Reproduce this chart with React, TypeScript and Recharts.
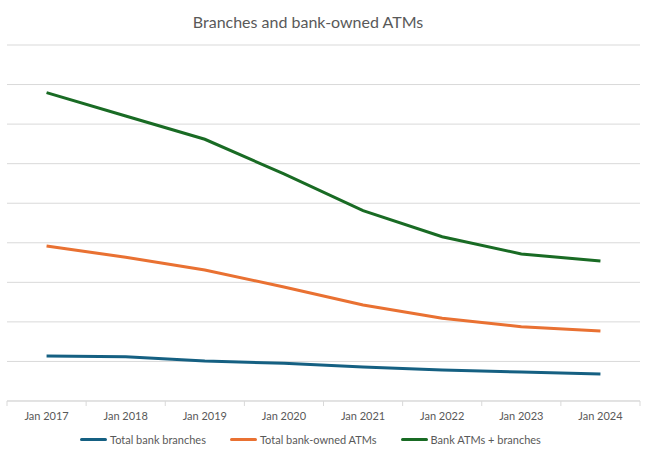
import { CartesianGrid, Line, LineChart, XAxis, YAxis } from "recharts";

const YEARS = ["Jan 2017", "Jan 2018", "Jan 2019", "Jan 2020", "Jan 2021", "Jan 2022", "Jan 2023", "Jan 2024"];
const BRANCHES = [1138, 1120, 1011, 953, 860, 784, 733, 683];
const ATMS = [3919, 3633, 3312, 2882, 2427, 2091, 1879, 1770];
const COMBINED = [7795, 7206, 6617, 5740, 4812, 4154, 3717, 3540];
const Y_TICKS = [0, 1000, 2000, 3000, 4000, 5000, 6000, 7000, 8000, 9000];

const SERIES = [
  { key: "branches", name: "Total bank branches", color: "#156082" },
  { key: "atms", name: "Total bank-owned ATMs", color: "#E97132" },
  { key: "combined", name: "Bank ATMs + branches", color: "#196B24" },
];

const W = 650;
const H = 457;
const MARGIN = { top: 45, right: 10, bottom: 26, left: 7 };
const FONT = "Lato, 'Open Sans', sans-serif";
const TEXT = "#595959";
const GRID = "#d9d9d9";

const data = YEARS.map((year, i) => ({
  year,
  branches: BRANCHES[i],
  atms: ATMS[i],
  combined: COMBINED[i],
}));

// Excel-style category axis: points sit in the middle of each band
const bandWidth = (W - MARGIN.left - MARGIN.right) / YEARS.length;

function YearTick(props: any) {
  const { x, y, payload, index } = props;
  const last = index === YEARS.length - 1;
  return (
    <g>
      <line x1={x - bandWidth / 2} x2={x - bandWidth / 2} y1={y} y2={y + 5} stroke={GRID} />
      {last && <line x1={x + bandWidth / 2} x2={x + bandWidth / 2} y1={y} y2={y + 5} stroke={GRID} />}
      <text x={x} y={y + 19} textAnchor="middle" fontSize={11} fill={TEXT} fontFamily={FONT}>
        {payload.value}
      </text>
    </g>
  );
}

export default function App() {
  return (
    <div style={{ position: "absolute", top: 0, left: 0, width: W, height: H, background: "#fff", fontFamily: FONT }}>
      <div style={{ position: "absolute", top: 12, left: 0, width: 616, textAlign: "center", fontSize: 16, color: TEXT }}>
        Branches and bank-owned ATMs
      </div>
      <LineChart width={W} height={H} data={data} margin={MARGIN}>
        <CartesianGrid vertical={false} stroke={GRID} />
        <XAxis
          dataKey="year"
          height={30}
          stroke={GRID}
          tickLine={false}
          tickSize={0}
          tickMargin={0}
          padding={{ left: bandWidth / 2, right: bandWidth / 2 }}
          tick={<YearTick />}
          interval={0}
        />
        <YAxis hide domain={[0, 9000]} ticks={Y_TICKS} />
        {SERIES.map((s) => (
          <Line
            key={s.key}
            dataKey={s.key}
            name={s.name}
            stroke={s.color}
            strokeWidth={3}
            dot={false}
            type="linear"
            isAnimationActive={false}
          />
        ))}
      </LineChart>
      <div style={{ position: "absolute", top: 433, left: 80, display: "flex", gap: 24, fontSize: 11, color: TEXT }}>
        {SERIES.map((s) => (
          <div key={s.key} style={{ display: "flex", alignItems: "center" }}>
            <span style={{ display: "inline-block", width: 27, height: 3, background: s.color, borderRadius: 2, marginRight: 3 }} />
            {s.name}
          </div>
        ))}
      </div>
    </div>
  );
}
